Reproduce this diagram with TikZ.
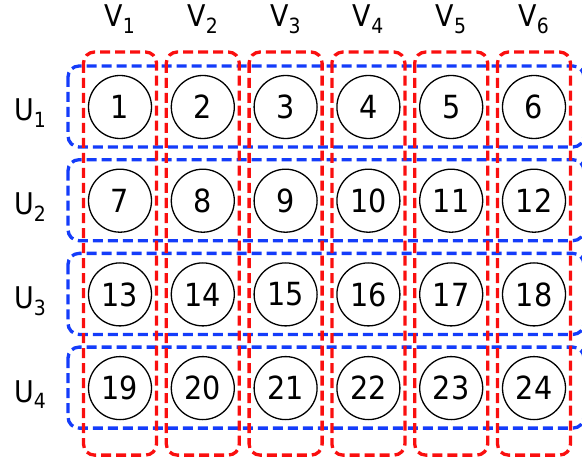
\documentclass[tikz,border=0pt]{standalone}
\usepackage{fontspec}
\setmainfont{DejaVu Sans Condensed}
\usetikzlibrary{calc}
\definecolor{rowline}{RGB}{20,60,250}
\definecolor{colline}{RGB}{250,15,15}

\begin{document}
\begin{tikzpicture}[x=1bp, y=-1bp,
  vert/.style={circle, draw=black, line width=1.3bp, minimum size=63bp, inner sep=0pt, font=\fontsize{32}{36}\selectfont},
  lab/.style={font=\fontsize{30}{34}\selectfont, inner sep=0pt},
  ubox/.style={draw=rowline, line width=3.3bp, dash pattern=on 10bp off 5bp, rounded corners=11bp},
  vbox/.style={draw=colline, line width=3.3bp, dash pattern=on 10bp off 5bp, rounded corners=11bp}]
\useasboundingbox (0,0) rectangle (582,462);

% ---- vertices, 4 rows by 6 columns ----
\foreach \i in {1,...,4} {
  \foreach \j in {1,...,6} {
    \pgfmathtruncatemacro{\k}{6*(\i-1)+\j}
    \node[vert] (n\i-\j) at ({120+82.8*(\j-1)}, {107+93.7*(\i-1)}) {\k};
  }
}

% ---- row sets U (blue) ----
\foreach \i in {1,...,4} {
  \draw[ubox] ($(n\i-1)+(-52,-41)$) rectangle ($(n\i-6)+(50,40)$);
  \node[lab, anchor=base west] (u\i) at ($(n\i-1)+(-106,14)$) {U\textsubscript{\i}};
}

% ---- column sets V (red) ----
\foreach \j in {1,...,6} {
  \draw[vbox] ($(n1-\j)+(-36.5,-55)$) rectangle ($(n4-\j)+(36.5,67)$);
  \node[lab, anchor=base] (v\j) at ($(n1-\j)+(0,-80)$) {V\textsubscript{\j}};
}
\end{tikzpicture}
\end{document}
